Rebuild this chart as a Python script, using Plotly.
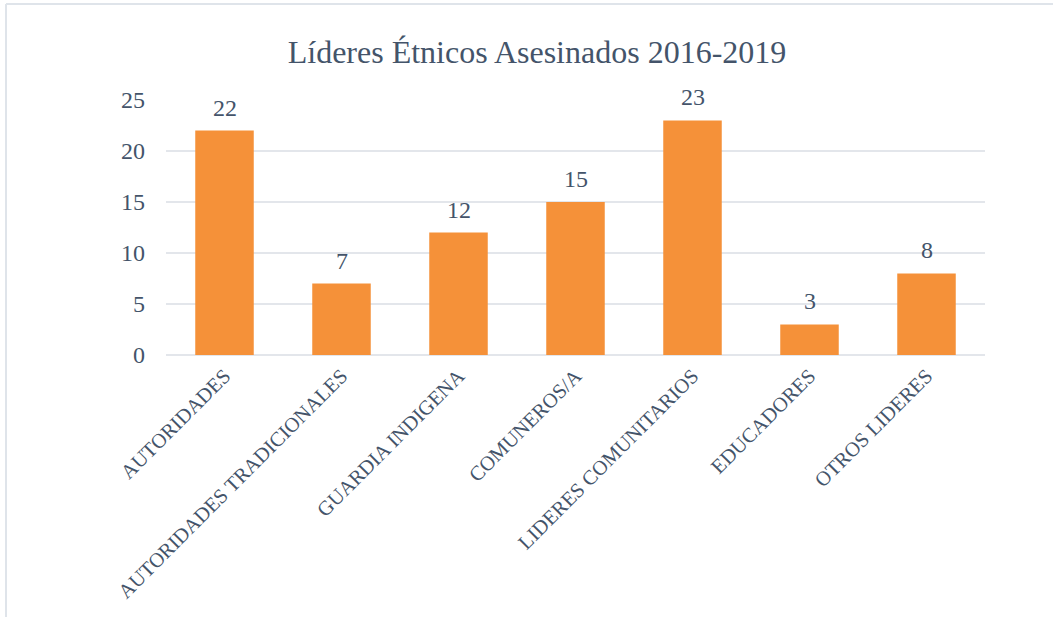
import plotly.graph_objects as go

categories = ["AUTORIDADES", "AUTORIDADES TRADICIONALES", "GUARDIA INDIGENA",
              "COMUNEROS/A", "LIDERES COMUNITARIOS", "EDUCADORES", "OTROS LIDERES"]
values = [22, 7, 12, 15, 23, 3, 8]
y_ticks = [0, 5, 10, 15, 20, 25]

TEXT = "#44546A"
FONT = "Liberation Serif, Times New Roman, serif"

W, H = 1053, 617
L, R, T, B = 166, 68, 100, 262
pw, ph = W - L - R, H - T - B

fig = go.Figure()
fig.add_trace(go.Bar(
    x=categories, y=values,
    marker=dict(color="#F59139", line=dict(width=0)),
    width=0.5,
    hoverinfo="x+y",
))

for c, v in zip(categories, values):
    fig.add_annotation(x=c, y=v, text=str(v), showarrow=False,
                       yanchor="bottom", yshift=8,
                       font=dict(family=FONT, size=24, color=TEXT))

# outer frame (left and top border of the chart area)
fx = (6 - L) / pw
fy = (H - B - 4) / ph
fig.add_shape(type="line", xref="paper", yref="paper",
              x0=fx, x1=fx, y0=fy, y1=-2, line=dict(color="#DFE4EA", width=2))
fig.add_shape(type="line", xref="paper", yref="paper",
              x0=fx, x1=2, y0=fy, y1=fy, line=dict(color="#DFE4EA", width=2))

fig.update_layout(
    width=W, height=H,
    margin=dict(l=L, r=R, t=T, b=B, pad=0),
    paper_bgcolor="white", plot_bgcolor="white",
    title=dict(text="Líderes Étnicos Asesinados 2016-2019",
               x=537 / W, xanchor="center", xref="container",
               y=1 - 52 / H, yanchor="middle", yref="container",
               font=dict(family=FONT, size=32, color=TEXT)),
    font=dict(family=FONT, color=TEXT),
    showlegend=False,
    bargap=0.5,
)
fig.update_xaxes(
    type="category", tickangle=-45, showgrid=False, showline=False,
    ticks="", tickfont=dict(family=FONT, size=20.5, color=TEXT),
    ticklabelstandoff=4,
)
fig.update_yaxes(
    range=[0, 25], tickvals=y_ticks, showgrid=True, gridcolor="#E3E6EB",
    gridwidth=2, zeroline=True, zerolinecolor="#E3E6EB", zerolinewidth=2,
    showline=False, ticks="", tickfont=dict(family=FONT, size=24, color=TEXT),
    ticklabelstandoff=20,
)

fig.write_html("out.html",
               config={"displayModeBar": False},
               post_script="document.body.style.margin='0';document.body.style.overflow='hidden';")
